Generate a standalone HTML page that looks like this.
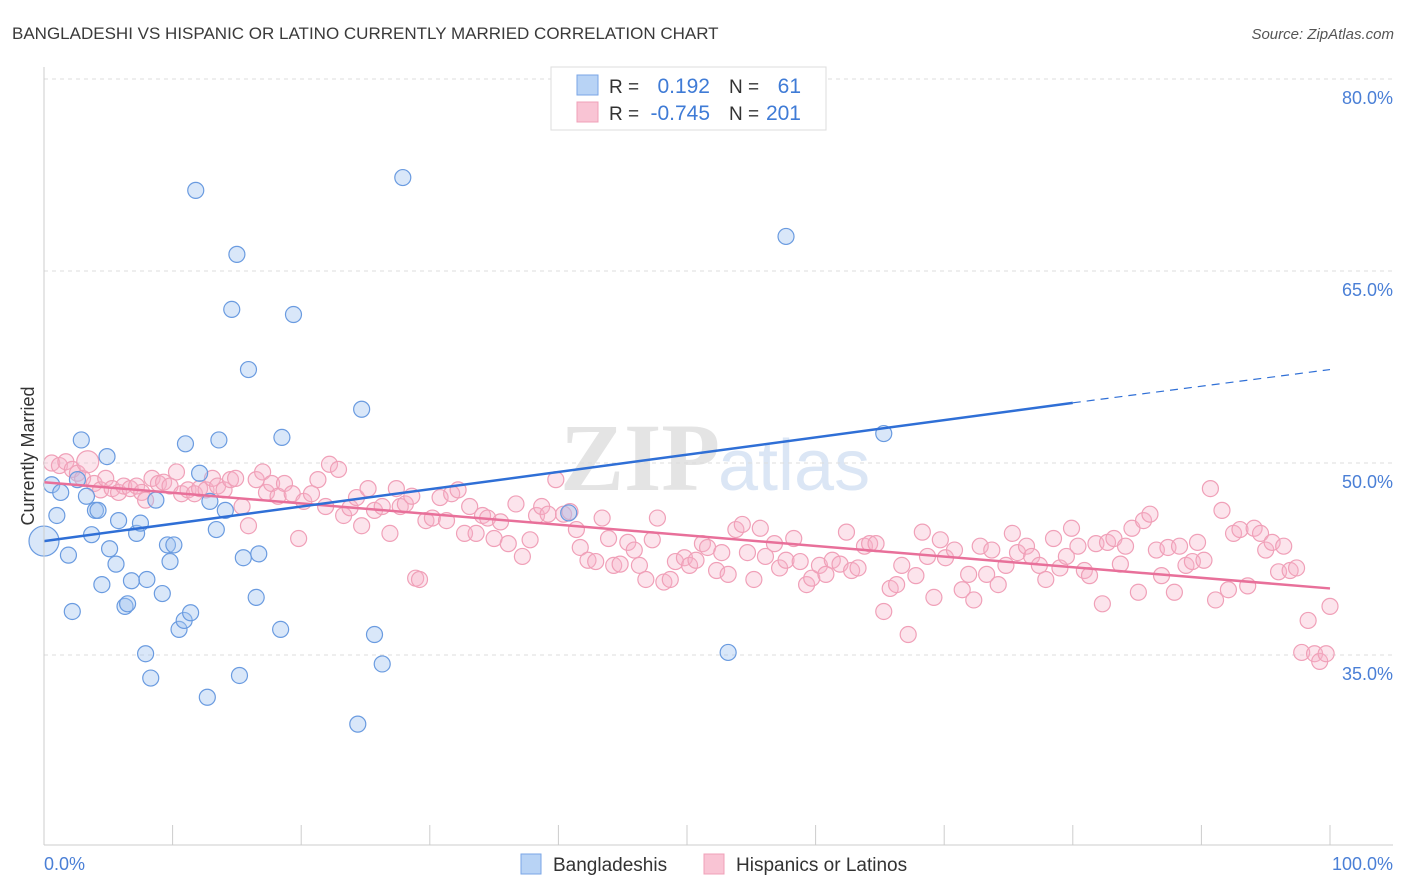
<!DOCTYPE html>
<html><head><meta charset="utf-8"><style>
body{margin:0;background:#fff;font-family:"Liberation Sans",sans-serif;}
#c{position:relative;width:1406px;height:892px;overflow:hidden}
</style></head><body>
<div id="c">
<svg id="s" width="1406" height="892" xmlns="http://www.w3.org/2000/svg">
<text x="12" y="39" font-size="17" fill="#3a3a3a">BANGLADESHI VS HISPANIC OR LATINO CURRENTLY MARRIED CORRELATION CHART</text>
<text x="1394" y="39" font-size="15" fill="#555" font-style="italic" text-anchor="end">Source: ZipAtlas.com</text>
<text x="560" y="490" font-size="96" fill="#e4e4e4" font-family="Liberation Serif" font-weight="bold">ZIP</text>
<text x="718" y="490" font-size="72" fill="#dbe6f5">atlas</text>
<text transform="translate(34,456) rotate(-90)" font-size="18" fill="#333" text-anchor="middle">Currently Married</text>
<g id="grid"></g><g id="pts"></g><g id="lines"></g>
<line x1="44" y1="845" x2="1393" y2="845" stroke="#ccc"/>
<line x1="44" y1="67" x2="44" y2="845" stroke="#ccc"/>
<text x="44" y="870" font-size="18" fill="#4a7fd6">0.0%</text>
<text x="1393" y="870" font-size="18" fill="#4a7fd6" text-anchor="end">100.0%</text>
<g>
<rect x="551" y="67" width="275" height="63" fill="#fff" stroke="#ddd"/>
<rect x="577" y="75" width="21" height="20" fill="#b8d3f5" stroke="#7aa6e6"/>
<rect x="577" y="102" width="21" height="20" fill="#f9c4d4" stroke="#f0a0b8"/>
<text x="609" y="93" font-size="19" fill="#333">R =</text>
<text x="710" y="93" font-size="21" fill="#3f7bd6" text-anchor="end">0.192</text>
<text x="729" y="93" font-size="19" fill="#333">N =</text>
<text x="801" y="93" font-size="21" fill="#3f7bd6" text-anchor="end">61</text>
<text x="609" y="120" font-size="19" fill="#333">R =</text>
<text x="710" y="120" font-size="21" fill="#3f7bd6" text-anchor="end">-0.745</text>
<text x="729" y="120" font-size="19" fill="#333">N =</text>
<text x="801" y="120" font-size="21" fill="#3f7bd6" text-anchor="end">201</text>
</g>
<g>
<rect x="521" y="854" width="20" height="20" fill="#b8d3f5" stroke="#7aa6e6"/>
<text x="553" y="871" font-size="19" fill="#333">Bangladeshis</text>
<rect x="704" y="854" width="20" height="20" fill="#f9c4d4" stroke="#f0a0b8"/>
<text x="736" y="871" font-size="19" fill="#333">Hispanics or Latinos</text>
</g>
</svg></div>
<script>
const yTicks=[80,65,50,35];
const xTicks=[0,10,20,30,40,50,60,70,80,90,100];
const blueX=[0,0.6,1,1.3,1.9,2.2,2.6,2.9,3.3,3.7,4,4.2,4.5,4.9,5.1,5.6,5.8,6.3,6.5,6.8,7.2,7.5,7.9,8,8.3,8.7,9.2,9.6,9.8,10.1,10.5,10.9,11,11.4,11.8,12.1,12.7,12.9,13.4,13.6,14.1,14.6,15,15.2,15.5,15.9,16.5,16.7,18.4,18.5,19.4,24.7,25.7,26.3,24.4,27.9,40.8,53.2,57.7,65.3];
const blueY=[43.9,48.3,45.9,47.7,42.8,38.4,48.7,51.8,47.4,44.4,46.3,46.3,40.5,50.5,43.3,42.1,45.5,38.8,39,40.8,44.5,45.3,35.1,40.9,33.2,47.1,39.8,43.6,42.3,43.6,37,37.7,51.5,38.3,71.3,49.2,31.7,47,44.8,51.8,46.3,62,66.3,33.4,42.6,57.3,39.5,42.9,37,52,61.6,54.2,36.6,34.3,29.6,72.3,46.1,35.2,67.7,52.3];
const pinkX=[0.6,1.2,1.7,2.2,2.6,3.0,3.4,3.9,4.4,4.8,5.3,5.8,6.2,6.7,7.2,7.6,7.9,8.4,8.9,9.3,9.8,10.3,10.7,11.2,11.7,12.1,12.6,13.1,13.5,14.0,14.5,14.9,15.4,15.9,16.5,17.0,17.3,17.7,18.2,18.7,19.3,19.8,20.2,20.8,21.3,21.9,22.2,22.9,23.3,23.8,24.3,24.7,25.2,25.7,26.3,26.9,27.4,27.7,28.1,28.6,28.9,29.2,29.7,30.2,30.8,31.3,31.7,32.2,32.7,33.1,33.6,34.1,34.5,35.0,35.5,36.1,36.7,37.2,37.8,38.3,38.7,39.2,39.8,40.4,40.9,41.4,41.7,42.3,42.9,43.4,43.9,44.3,44.8,45.4,45.9,46.3,46.8,47.3,47.7,48.2,48.7,49.1,49.8,50.2,50.7,51.2,51.6,52.3,52.7,53.2,53.8,54.3,54.7,55.2,55.7,56.1,56.8,57.2,57.7,58.3,58.8,59.3,59.7,60.3,60.8,61.3,61.9,62.4,62.8,63.3,63.8,64.2,64.7,65.3,65.8,66.3,66.7,67.2,67.8,68.3,68.7,69.2,69.7,70.1,70.8,71.4,71.9,72.3,72.8,73.3,73.7,74.2,74.8,75.3,75.7,76.4,76.8,77.4,77.9,78.5,79.0,79.5,79.9,80.4,80.9,81.3,81.8,82.3,82.7,83.2,83.7,84.1,84.6,85.1,85.5,86.0,86.5,86.9,87.4,87.9,88.3,88.8,89.3,89.7,90.2,90.7,91.1,91.6,92.1,92.5,93.0,93.6,94.1,94.6,95.0,95.5,96.0,96.4,96.9,97.4,97.8,98.3,98.8,99.2,99.7,100];
const pinkY=[50.0,49.8,50.1,49.5,49.2,48.8,50.1,48.4,47.9,48.8,48.0,47.7,48.2,48.0,48.2,47.7,47.1,48.8,48.4,48.5,48.2,49.3,47.6,47.9,47.6,48.0,47.9,48.8,48.2,47.9,48.7,48.8,46.6,45.1,48.7,49.3,47.7,48.4,47.4,48.4,47.6,44.1,47.0,47.6,48.7,46.6,49.9,49.5,45.9,46.5,47.3,45.1,48.0,46.3,46.6,44.5,48.0,46.6,46.8,47.4,41.0,40.9,45.5,45.7,47.3,45.5,47.6,47.9,44.5,46.6,44.5,45.9,45.7,44.1,45.4,43.7,46.8,42.7,44.0,45.9,46.6,46.0,48.7,46.0,46.2,44.8,43.4,42.4,42.3,45.7,44.1,42.0,42.1,43.8,43.2,42.0,40.9,44.0,45.7,40.7,40.9,42.3,42.6,42.0,42.4,43.7,43.4,41.6,43.0,41.3,44.8,45.2,43.0,40.9,44.9,42.7,43.7,41.8,42.4,44.1,42.3,40.5,41.0,42.0,41.3,42.4,42.1,44.6,41.6,41.8,43.5,43.7,43.7,38.4,40.2,40.5,42.0,36.6,41.2,44.6,42.7,39.5,44.0,42.6,43.2,40.1,41.3,39.3,43.5,41.3,43.2,40.5,42.0,44.5,43.0,43.5,42.7,42.0,40.9,44.1,41.8,42.7,44.9,43.5,41.6,41.2,43.7,39.0,43.8,44.1,42.1,43.5,44.9,39.9,45.5,46.0,43.2,41.2,43.4,39.9,43.5,42.0,42.3,43.8,42.4,48.0,39.3,46.3,40.1,44.5,44.8,40.4,44.9,44.5,43.2,43.8,41.5,43.5,41.6,41.8,35.2,37.7,35.1,34.5,35.1,38.8];
const blueTrend=[[0,43.9],[80,54.7]];
const blueTrendExt=[[80,54.7],[100,57.3]];
const pinkTrend=[[0,48.5],[100,40.2]];
const NS="http://www.w3.org/2000/svg";
const xs=v=>44+v*12.86, ys=v=>79+(80-v)*12.8;
function mk(tag,attrs,parent){const e=document.createElementNS(NS,tag);for(const k in attrs)e.setAttribute(k,attrs[k]);parent.appendChild(e);return e;}
const grid=document.getElementById('grid'),pts=document.getElementById('pts'),lines=document.getElementById('lines');
yTicks.forEach(t=>{
  const l=mk('line',{x1:44,x2:1393,y1:ys(t),y2:ys(t),stroke:'#ddd','stroke-dasharray':'4,4'},grid);
  
  
  const tx=mk('text',{x:1393,y:ys(t)+25,'font-size':18,fill:'#4a7fd6','text-anchor':'end'},grid);
  tx.textContent=t.toFixed(1)+'%';
  
  
});
xTicks.forEach(t=>{
  const l=mk('line',{x1:xs(t),x2:xs(t),y1:825,y2:845,stroke:'#ccc'},grid);
  
  
});
pinkX.forEach((x,i)=>{
  const c=mk('circle',{cx:xs(x),cy:ys(pinkY[i]),r:(i==6?11:8),fill:'rgba(246,178,200,0.35)',stroke:'#f0a0b8','stroke-width':1.2},pts);
  
  
});
blueX.forEach((x,i)=>{
  const c=mk('circle',{cx:xs(x),cy:ys(blueY[i]),r:(i==0?15:8),fill:'rgba(160,196,240,0.4)',stroke:'#6a9be0','stroke-width':1.2},pts);
  
  
});
function ln(p,st,name,dash){const l=mk('line',{x1:xs(p[0][0]),y1:ys(p[0][1]),x2:xs(p[1][0]),y2:ys(p[1][1]),stroke:st,'stroke-width':dash?1.2:2.5},lines);if(dash)l.setAttribute('stroke-dasharray','8,6');
  
  }
ln(pinkTrend,'#e8709a','hispanic-trend-line');
ln(blueTrend,'#2f6fd6','bangladeshi-trend-line');
ln(blueTrendExt,'#2f6fd6','bangladeshi-trend-extension',true);
</script>
</body></html>
